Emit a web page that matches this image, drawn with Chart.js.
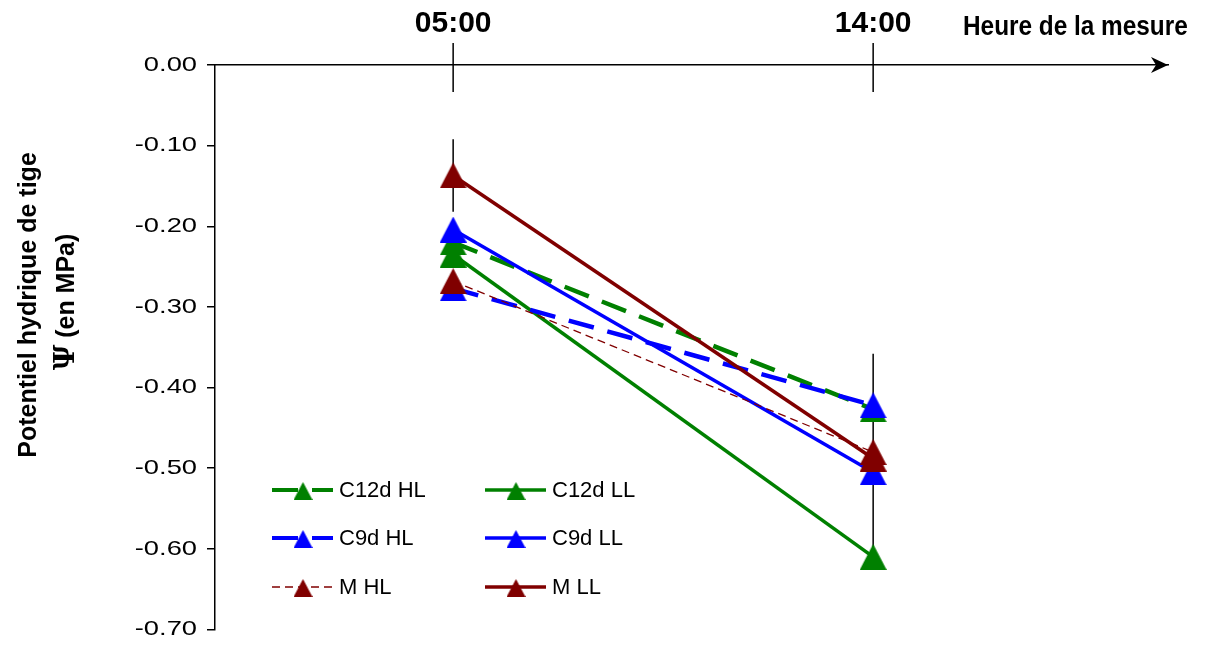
<!DOCTYPE html>
<html>
<head>
<meta charset="utf-8">
<script src="https://cdn.jsdelivr.net/npm/chart.js@4.4.0/dist/chart.umd.min.js"></script>
<style>
body { margin: 0; background: #fff; }
</style>
</head>
<body>
<canvas id="graficoPotentiel" width="1205" height="647"></canvas>
<script>
var heures = ['05:00', '14:00'];
var noms = ['C12d HL', 'C12d LL', 'C9d HL', 'C9d LL', 'M HL', 'M LL'];
var c12dHL = [-0.22, -0.427];
var c12dLL = [-0.235, -0.61];
var c9dHL = [-0.277, -0.422];
var c9dLL = [-0.204, -0.505];
var mHL = [-0.268, -0.48];
var mLL = [-0.137, -0.488];
var erreurMLL = [0.045, 0.13];
var ticksY = [0, -0.1, -0.2, -0.3, -0.4, -0.5, -0.6, -0.7];

var police = "'Liberation Sans', Arial, sans-serif";

// triangle facon Excel (largeur ~ hauteur)
function marqueur(couleur, w, h) {
    var c = document.createElement('canvas');
    c.width = w;
    c.height = h;
    var g = c.getContext('2d');
    g.fillStyle = couleur;
    g.beginPath();
    g.moveTo(w / 2, 0);
    g.lineTo(w, h);
    g.lineTo(0, h);
    g.closePath();
    g.fill();
    return c;
}

function points(vals) {
    return vals.map(function (v, i) { return { x: i, y: v }; });
}

function serie(nom, vals, couleur, largeur, tirets, ordre) {
    return {
        label: nom,
        data: points(vals),
        borderColor: couleur,
        backgroundColor: couleur,
        borderWidth: largeur,
        borderDash: tirets,
        pointStyle: marqueur(couleur, 27, 26),
        pointRadius: 13,
        tension: 0,
        order: ordre
    };
}

var datasets = [
    serie(noms[0], c12dHL, '#008000', 4.5, [26, 14], 6),
    serie(noms[1], c12dLL, '#008000', 3.5, [], 5),
    serie(noms[2], c9dHL, '#0000ff', 4.5, [26, 14], 4),
    serie(noms[3], c9dLL, '#0000ff', 3.5, [], 3),
    serie(noms[4], mHL, '#800000', 1.3, [8, 5], 2),
    serie(noms[5], mLL, '#800000', 3.5, [], 1)
];

var decor = {
    id: 'decor',
    beforeDatasetsDraw: function (chart) {
        var ctx = chart.ctx, sx = chart.scales.x, sy = chart.scales.y;
        ctx.save();
        ctx.strokeStyle = '#000';
        ctx.lineWidth = 1.5;
        mLL.forEach(function (v, i) {
            var x = sx.getPixelForValue(i);
            ctx.beginPath();
            ctx.moveTo(x, sy.getPixelForValue(v + erreurMLL[i]));
            ctx.lineTo(x, sy.getPixelForValue(v - erreurMLL[i]));
            ctx.stroke();
        });
        ctx.restore();
    },
    afterDraw: function (chart) {
        var ctx = chart.ctx, sx = chart.scales.x, sy = chart.scales.y;
        var area = chart.chartArea;
        ctx.save();

        // ticks en croix sur l'axe du haut + fleche
        ctx.strokeStyle = '#000';
        ctx.fillStyle = '#000';
        ctx.lineWidth = 1.5;
        heures.forEach(function (h, i) {
            var x = sx.getPixelForValue(i);
            ctx.beginPath();
            ctx.moveTo(x, area.top - 22);
            ctx.lineTo(x, area.top + 27);
            ctx.stroke();
        });
        ctx.beginPath();
        ctx.moveTo(area.right, area.top);
        ctx.lineTo(area.right - 17, area.top - 8);
        ctx.lineTo(area.right - 12, area.top);
        ctx.lineTo(area.right - 17, area.top + 8);
        ctx.closePath();
        ctx.fill();

        // titre axe x
        ctx.font = 'bold 28px ' + police;
        ctx.textAlign = 'left';
        ctx.textBaseline = 'alphabetic';
        ctx.save();
        ctx.translate(963, 35);
        ctx.scale(0.87, 1);
        ctx.fillText('Heure de la mesure', 0, 0);
        ctx.restore();

        // etiquettes axe y
        ctx.font = '21px ' + police;
        ctx.textAlign = 'right';
        ctx.textBaseline = 'middle';
        sy.ticks.forEach(function (t) {
            ctx.save();
            ctx.translate(197, sy.getPixelForValue(t.value));
            ctx.scale(1.3, 1);
            ctx.fillText(t.value.toFixed(2), 0, 0);
            ctx.restore();
        });

        // titre axe y
        ctx.save();
        ctx.translate(29, 305);
        ctx.rotate(-Math.PI / 2);
        ctx.textAlign = 'center';
        ctx.font = 'bold 25px ' + police;
        ctx.fillText('Potentiel hydrique de tige', 0, 0);
        ctx.restore();

        ctx.save();
        ctx.translate(67, 302);
        ctx.rotate(-Math.PI / 2);
        ctx.textAlign = 'left';
        ctx.font = "bold 28px 'DejaVu Serif', serif";
        var wPsi = ctx.measureText('Ψ').width;
        ctx.font = 'bold 25px ' + police;
        var wReste = ctx.measureText(' (en MPa)').width;
        var x0 = -(wPsi + wReste) / 2;
        ctx.font = "bold 28px 'DejaVu Serif', serif";
        ctx.fillText('Ψ', x0, 0);
        ctx.font = 'bold 25px ' + police;
        ctx.fillText(' (en MPa)', x0 + wPsi, 0);
        ctx.restore();

        // legende
        var colX = [272, 485];
        var rowY = [490, 538, 587];
        ctx.font = '22px ' + police;
        ctx.textAlign = 'left';
        ctx.textBaseline = 'middle';
        chart.data.datasets.forEach(function (ds, i) {
            var lx = colX[i % 2], ly = rowY[Math.floor(i / 2)];
            ctx.strokeStyle = ds.borderColor;
            ctx.lineWidth = Math.min(ds.borderWidth, 4);
            ctx.setLineDash(ds.borderDash);
            ctx.beginPath();
            ctx.moveTo(lx, ly);
            ctx.lineTo(lx + 61, ly);
            ctx.stroke();
            ctx.setLineDash([]);
            ctx.drawImage(marqueur(ds.borderColor, 19, 18), lx + 21.5, ly - 8);
            ctx.fillStyle = '#000';
            ctx.fillText(ds.label, lx + 67, ly + 1);
        });
        ctx.restore();
    }
};

new Chart(document.getElementById('graficoPotentiel'), {
    type: 'line',
    data: { datasets: datasets },
    options: {
        responsive: false,
        animation: false,
        events: [],
        layout: { padding: { left: 0, top: 0, right: 37, bottom: 14 } },
        plugins: {
            legend: { display: false },
            tooltip: { enabled: false }
        },
        scales: {
            x: {
                type: 'linear',
                position: 'top',
                min: -0.567,
                max: 1.702,
                afterFit: function (scale) {
                    scale.height = 65;
                    scale.paddingLeft = 0;
                    scale.paddingRight = 0;
                },
                afterBuildTicks: function (scale) {
                    scale.ticks = heures.map(function (h, i) { return { value: i }; });
                },
                grid: { display: false, drawTicks: false },
                border: { display: true, color: '#000', width: 1.5 },
                ticks: {
                    padding: 23,
                    color: '#000',
                    font: { family: police, size: 30, weight: 'bold' },
                    callback: function (v) { return heures[v]; }
                }
            },
            y: {
                position: 'left',
                min: -0.7,
                max: 0,
                afterFit: function (scale) {
                    scale.width = 215;
                    scale.paddingTop = 0;
                    scale.paddingBottom = 0;
                },
                afterBuildTicks: function (scale) {
                    scale.ticks = ticksY.map(function (v) { return { value: v }; });
                },
                grid: {
                    display: true,
                    drawOnChartArea: false,
                    drawTicks: true,
                    tickLength: 8,
                    color: '#000',
                    lineWidth: 1.5
                },
                border: { display: true, color: '#000', width: 1.5 },
                ticks: { display: false }
            }
        }
    },
    plugins: [decor]
});
</script>
</body>
</html>
